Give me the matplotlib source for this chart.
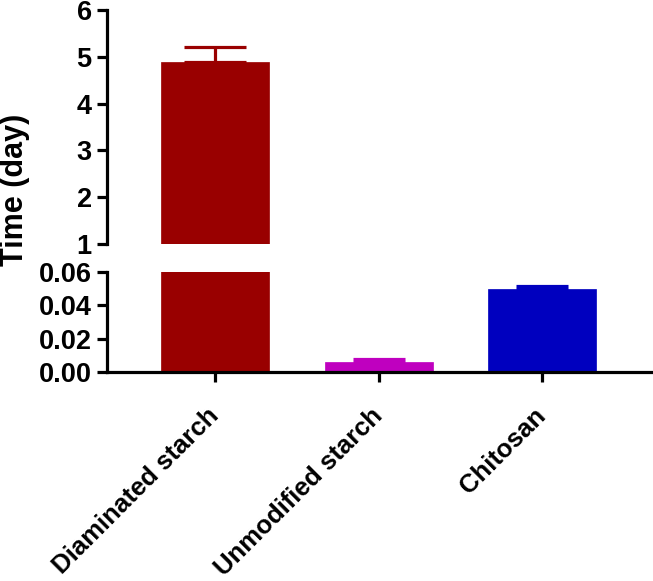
import matplotlib
matplotlib.use("Agg")
import matplotlib.pyplot as plt
import numpy as np

categories = ["Diaminated starch", "Unmodified starch", "Chitosan"]
means = [4.89, 0.0062, 0.0496]
errors = [0.33, 0.0014, 0.0020]
colors = ["#990000", "#BF00BF", "#0000BF"]
top_ticks = [1, 2, 3, 4, 5, 6]
bottom_ticks = [0.00, 0.02, 0.04, 0.06]
bottom_ticklabels = ["0.00", "0.02", "0.04", "0.06"]

plt.rcParams['font.family'] = ['Liberation Sans', 'DejaVu Sans']
plt.rcParams['font.weight'] = 'bold'

W, H = 653, 581
fig = plt.figure(figsize=(W / 100, H / 100), dpi=100)

left = 107 / W
width = (652 - 107) / W
ax_top = fig.add_axes([left, 1 - 244 / H, width, (244 - 10) / H])
ax_bot = fig.add_axes([left, 1 - 372 / H, width, (372 - 272) / H])

x = np.arange(len(categories))
bw = 0.66
lw = 2.3
caps = [22, 19, 19]

for ax in (ax_top, ax_bot):
    ax.bar(x, means, width=bw, color=colors, edgecolor=colors, linewidth=0.5, zorder=2)
    for i in range(len(categories)):
        ax.errorbar(x[i], means[i], yerr=[[0], [errors[i]]], fmt='none',
                    ecolor=colors[i], elinewidth=lw, capsize=caps[i], capthick=lw, zorder=1)
    ax.set_xlim(-0.66, 2.67)
    for s in ("top", "right"):
        ax.spines[s].set_visible(False)
    ax.spines["left"].set_linewidth(lw)
    ax.spines["bottom"].set_linewidth(lw)
    ax.tick_params(axis='y', length=7, width=lw, labelsize=19.5, pad=4)
    ax.tick_params(axis='x', length=7, width=lw)

ax_top.set_ylim(1, 6)
ax_top.set_yticks(top_ticks)
ax_top.set_yticklabels([str(t) for t in top_ticks], fontweight='bold')
ax_top.spines["bottom"].set_visible(False)
ax_top.set_xticks([])

ax_bot.set_ylim(0, 0.06)
ax_bot.set_yticks(bottom_ticks)
ax_bot.set_yticklabels(bottom_ticklabels, fontweight='bold')
ax_bot.set_xticks(x)
ax_bot.set_xticklabels(categories, rotation=45, ha='right', va='center',
                       rotation_mode='anchor', fontsize=18.5, fontweight='bold')
ax_bot.tick_params(axis='x', pad=22)

fig.text(15 / W, 1 - 190 / H, "Time (day)", rotation=90, ha='center', va='center',
         fontsize=22, fontweight='bold')

fig.savefig("out.png", dpi=100)
